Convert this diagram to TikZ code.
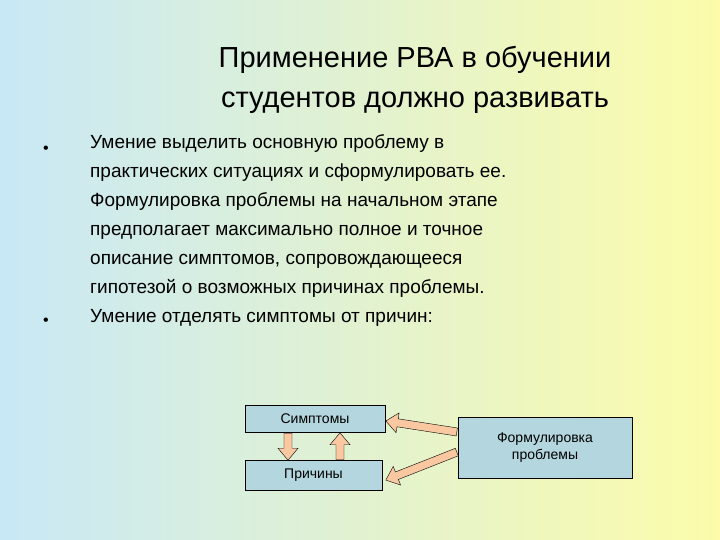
\documentclass[tikz,border=0pt]{standalone}
\usepackage{fontspec}
\setmainfont{Liberation Sans}
\usetikzlibrary{shapes.arrows,calc}
\definecolor{boxc}{HTML}{B4D6DE}
\definecolor{arrc}{HTML}{F9C7A0}
\definecolor{bgur}{RGB}{252,252,170}
\definecolor{bgll}{RGB}{200,232,246}
\tikzset{
 box/.style={draw=black,fill=boxc,inner sep=0pt,font=\fontsize{14}{17}\selectfont,align=center},
 barr/.style={single arrow,draw=black,fill=arrc,minimum width=20pt,single arrow head extend=4pt,single arrow tip angle=80,inner sep=2.5pt,anchor=tail},
 body/.style={anchor=north west,align=left,font=\fontsize{19}{29}\selectfont,inner sep=0pt}
}
\newcommand\blockarr[2]{\path let \p1=(#1), \p2=(#2), \n1={atan2(\y2-\y1,\x2-\x1)}, \n2={veclen(\x2-\x1,\y2-\y1)} in node[barr,minimum height=\n2,rotate=\n1] at (\p1) {};}
\begin{document}
\begin{tikzpicture}[x=1pt,y=-1pt]
\useasboundingbox (0,0) rectangle (720,540);
\shade[left color=bgll,right color=bgur] (0,0) rectangle (720,540);
\node[align=center,font=\fontsize{29}{40}\selectfont,inner sep=0pt] (title) at (415,80) {Применение РВА в обучении\\студентов должно развивать};
\node[body] (t1) at (90,134) {Умение выделить основную проблему в\\практических ситуациях и сформулировать ее.\\Формулировка проблемы на начальном этапе\\предполагает максимально полное и точное\\описание симптомов, сопровождающееся\\гипотезой о возможных причинах проблемы.\\Умение отделять симптомы от причин:};
\node[font=\fontsize{16}{16}\selectfont] (b1) at (46,150) {•};
\node[font=\fontsize{16}{16}\selectfont] (b2) at (46,322) {•};
\node[box,minimum width=140pt,minimum height=27pt] (s) at (315,418.5) {Симптомы};
\node[box,minimum width=137pt,minimum height=30pt] (p) at (313.5,475) {Причины};
\node[box,minimum width=174pt,minimum height=61pt] (f) at (545,447.5) {Формулировка\\проблемы};
\coordinate (a1s) at (288,433); \coordinate (a1e) at (288,460);
\coordinate (a2s) at (340,460); \coordinate (a2e) at (340,433);
\coordinate (a3s) at (457,432); \coordinate (a3e) at (386,421);
\coordinate (a4s) at (457,452); \coordinate (a4e) at (386,480);
\blockarr{a1s}{a1e}
\blockarr{a2s}{a2e}
\blockarr{a3s}{a3e}
\blockarr{a4s}{a4e}
\end{tikzpicture}
\end{document}
